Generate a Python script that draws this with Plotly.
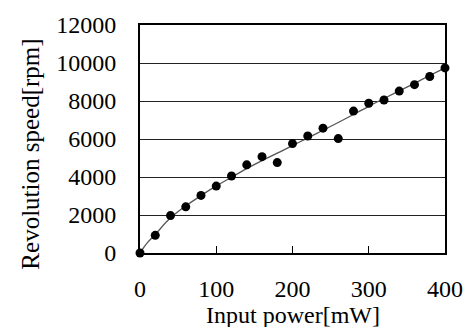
import plotly.graph_objects as go

# measured data points
power_mw = [0, 20, 40, 60, 80, 100, 120, 140, 160, 180, 200,
            220, 240, 260, 280, 300, 320, 340, 360, 380, 400]
speed_rpm = [0, 930, 1970, 2430, 3030, 3520, 4050, 4640, 5070, 4760, 5760,
             6160, 6570, 6020, 7470, 7880, 8050, 8520, 8860, 9290, 9740]

# trend curve
trend_x = [0, 5, 10, 20, 40, 60, 80, 100, 120, 140, 160, 180, 200,
           220, 240, 260, 280, 300, 320, 340, 360, 380, 400]
trend_y = [0, 300, 560, 980, 1850, 2480, 3020, 3530, 3990, 4440, 4860, 5260, 5650,
           6060, 6460, 6870, 7290, 7720, 8130, 8530, 8930, 9340, 9740]

x_ticks = [0, 100, 200, 300, 400]
x_labels = ["0", "100", "200", "300", "400"]
y_ticks = [0, 2000, 4000, 6000, 8000, 10000, 12000]
y_labels = ["0", "2000", "4000", "6000", "8000", "10000", "12000"]

FONT = "Liberation Serif, Times New Roman, serif"

fig = go.Figure()
fig.add_trace(go.Scatter(x=trend_x, y=trend_y, mode="lines",
                         line=dict(color="#555555", width=1.3, shape="spline"),
                         hoverinfo="skip", cliponaxis=False))
fig.add_trace(go.Scatter(x=power_mw, y=speed_rpm, mode="markers",
                         marker=dict(color="black", size=9),
                         cliponaxis=False))

fig.update_layout(
    width=475, height=327,
    margin=dict(l=140, r=28, t=21, b=74),
    paper_bgcolor="white", plot_bgcolor="white",
    showlegend=False,
    font=dict(family=FONT, color="black", size=24),
    xaxis=dict(range=[0, 400], tickvals=x_ticks, ticktext=x_labels,
               ticks="inside", ticklen=7,
               tickwidth=1, tickcolor="black", showgrid=False, zeroline=False,
               showline=True, linecolor="black", linewidth=2, mirror=True,
               tickfont=dict(size=24), ticklabelstandoff=13),
    yaxis=dict(range=[0, 12000], tickvals=y_ticks, ticktext=y_labels,
               ticks="", showgrid=True,
               gridcolor="#222222", gridwidth=1, zeroline=False,
               showline=True, linecolor="black", linewidth=2, mirror=True,
               tickfont=dict(size=24), ticklabelstandoff=17),
    annotations=[
        dict(text="Input power[mW]", xref="paper", yref="paper",
             x=0.5, y=-0.272, xanchor="center", yanchor="middle",
             showarrow=False, font=dict(size=24)),
        dict(text="Revolution speed[rpm]", xref="paper", yref="paper",
             x=-0.358, y=0.435, xanchor="center", yanchor="middle",
             textangle=-90, showarrow=False, font=dict(size=25)),
    ],
)

fig.write_html("out.html")
